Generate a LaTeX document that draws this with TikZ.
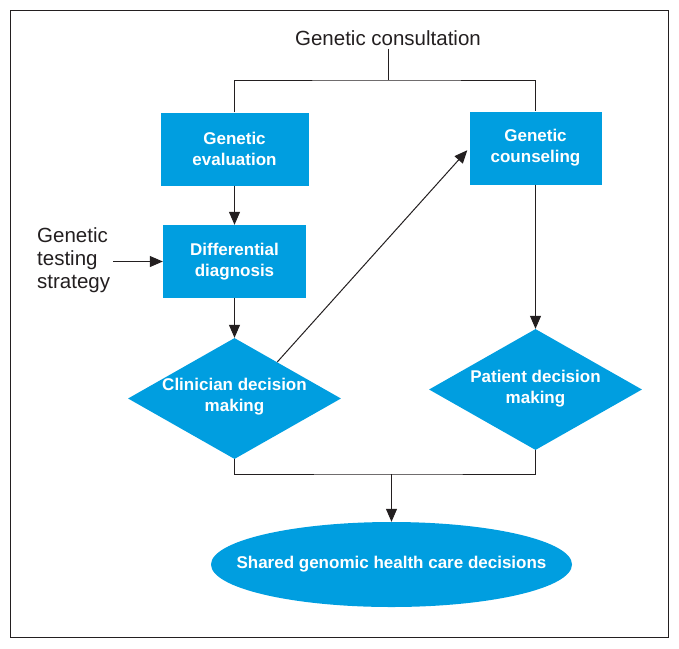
\documentclass[tikz,border=0pt]{standalone}
\usepackage{fontspec}
\setmainfont{Liberation Sans}
\usetikzlibrary{arrows.meta,positioning,calc,shapes.geometric}
\definecolor{geneblue}{RGB}{0,158,224}
\definecolor{lineblack}{RGB}{35,31,32}

\begin{document}
\begin{tikzpicture}[x=1pt,y=-1pt,
  box/.style={fill=geneblue,text=white,align=center,font=\fontsize{17}{21}\selectfont\bfseries,minimum height=73pt,inner sep=0pt},
  decision/.style={diamond,fill=geneblue,minimum width=213pt,minimum height=121pt,inner sep=0pt},
  outcome/.style={ellipse,fill=geneblue,minimum width=361pt,minimum height=85pt,inner sep=0pt},
  boxtext/.style={text=white,align=center,font=\fontsize{17}{21}\selectfont\bfseries,inner sep=0pt},
  note/.style={text=lineblack,align=left,font=\fontsize{20.5}{23}\selectfont,inner sep=3pt},
  link/.style={draw=lineblack,line width=1pt},
  arr/.style={link,-{Triangle[length=13pt,width=11pt]}}]
\useasboundingbox (0,0) rectangle (679,648);
\draw[lineblack,line width=1pt] (10.5,10.5) rectangle (668,637);
% boxes
\node[note,align=center] (consult) at (388,38) {Genetic consultation};
\node[box,minimum width=148pt] (evaluation) at (234.5,149) {Genetic\\evaluation};
\node[box,minimum width=143pt] (diagnosis) at (234.5,261.5) {Differential\\diagnosis};
\node[box,minimum width=132pt] (counseling) at (535.5,148) {Genetic\\counseling};
\node[note,anchor=west] (strategy) at (34,260) {Genetic\\testing\\strategy};
% decisions
\node[decision] (clinician) at (234.5,398.5) {};
\node[boxtext] (clinicianlabel) at ([yshift=2pt]clinician.center) {Clinician decision\\making};
\node[decision] (patient) at (535.5,389.5) {};
\node[boxtext] (patientlabel) at ([yshift=1pt]patient.center) {Patient decision\\making};
\node[outcome] (shared) at (391.5,564.5) {};
\node[boxtext] (sharedlabel) at (shared.center) {Shared genomic health care decisions};
% connectors
\coordinate (split) at (388,80);
\coordinate (merge) at (391.5,474);
\draw[link] (consult.south) -- (split);
\draw[link] (evaluation.north) |- (split) -| (counseling.north);
\draw[arr] (evaluation) -- (diagnosis);
\draw[arr] (strategy.east |- diagnosis) -- (diagnosis.west);
\draw[arr] (diagnosis) -- (clinician);
\draw[arr,shorten >=3pt] ($(clinician.north)!.4!(clinician.east)$) -- (counseling.west);
\draw[arr] (counseling) -- (patient);
\draw[link] (clinician.south) |- (merge) -| (patient.south);
\draw[arr] (merge) -- (shared);
\end{tikzpicture}
\end{document}
